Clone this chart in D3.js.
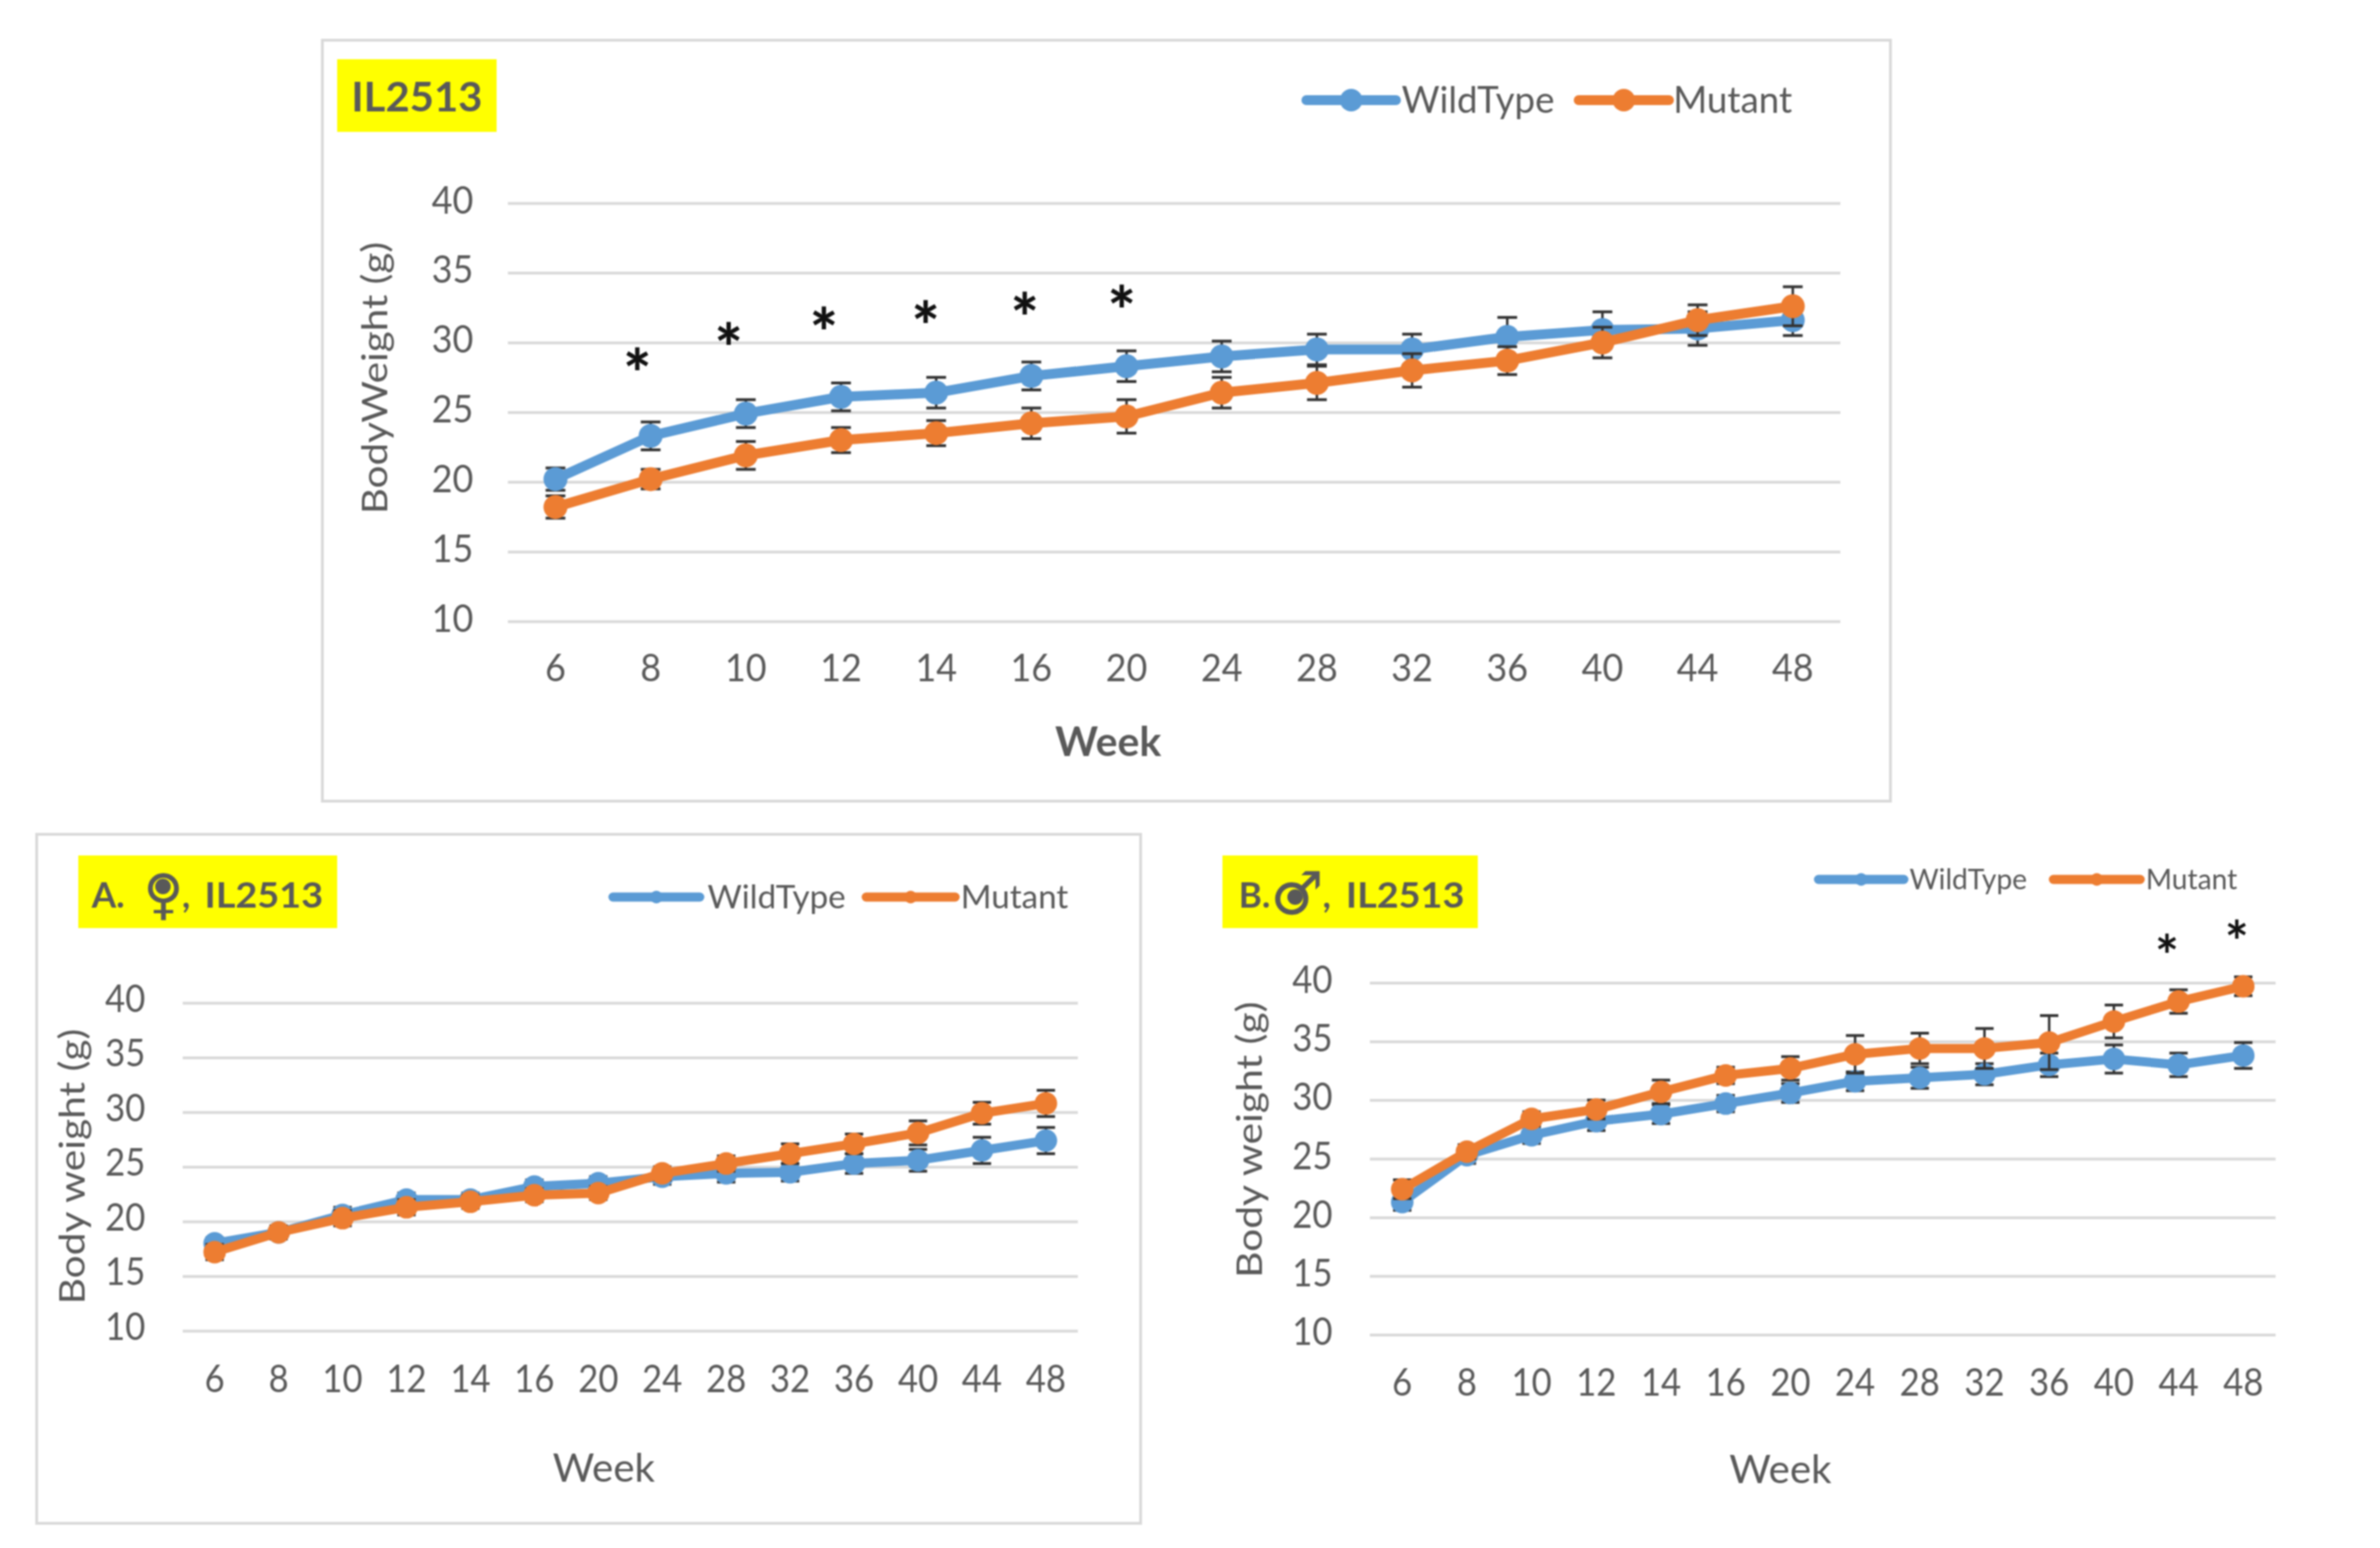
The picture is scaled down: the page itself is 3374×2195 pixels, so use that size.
<!DOCTYPE html>
<html><head><meta charset="utf-8">
<script src="https://cdn.jsdelivr.net/npm/d3@7"></script>
<style>
html,body{margin:0;padding:0;background:#fff}
svg{display:block;filter:blur(1.1px)}
text{font-family:Lato,"Open Sans",sans-serif;fill:#595959}
</style></head><body>
<svg id="c" width="3374" height="2195"></svg>
<script>
const weeks=[6,8,10,12,14,16,20,24,28,32,36,40,44,48];
const yTicks=[10,15,20,25,30,35,40];
const seriesNames=["WildType","Mutant"];
const seriesColors=["#5b9bd5","#ed7d31"];

const allWT=[20.2,23.3,24.9,26.1,26.4,27.6,28.3,29.0,29.5,29.5,30.4,30.9,31.0,31.6];
const allMut=[18.2,20.2,21.9,23.0,23.5,24.2,24.7,26.4,27.1,28.0,28.7,30.0,31.6,32.6];
const allWTErr=[0.8,1.0,1.0,1.0,1.1,1.0,1.1,1.1,1.1,1.1,1.4,1.3,1.2,1.1];
const allMutErr=[0.8,0.7,1.0,0.9,0.9,1.1,1.2,1.1,1.2,1.2,1.0,1.1,1.1,1.4];
const allStarPos=[0.86,1.82,2.82,3.89,4.93,5.95];
const allStarVal=[28.9,30.7,31.8,32.3,32.9,33.4];

const femWT=[18.0,19.0,20.6,22.0,22.0,23.2,23.5,24.1,24.4,24.5,25.3,25.6,26.5,27.4];
const femMut=[17.2,19.0,20.3,21.3,21.8,22.4,22.6,24.4,25.3,26.2,27.1,28.1,29.9,30.8];
const femWTErr=[0.5,0.5,0.7,0.6,0.6,0.6,0.6,0.7,0.8,0.8,0.9,1.0,1.2,1.2];
const femMutErr=[0.7,0.6,0.7,0.7,0.6,0.6,0.6,0.6,0.7,0.9,0.9,1.1,1.0,1.2];

const malWT=[21.3,25.3,27.0,28.2,28.8,29.7,30.6,31.6,31.9,32.2,33.0,33.5,33.0,33.8];
const malMut=[22.4,25.6,28.4,29.2,30.7,32.1,32.7,33.9,34.4,34.4,34.9,36.7,38.4,39.7];
const malWTErr=[0.7,0.7,0.7,0.8,0.8,0.7,0.8,0.8,0.9,0.9,1.0,1.2,1.0,1.1];
const malMutErr=[0.8,0.6,0.6,0.8,1.0,0.7,1.0,1.6,1.3,1.7,2.3,1.4,1.0,0.8];
const malStarPos=[11.82,12.9];
const malStarVal=[43.4,44.6];

const svg=d3.select("#c");
svg.append("rect").attr("width",3374).attr("height",2195).attr("fill","#fff");

function panel(p){
  const g=svg.append("g");
  if(p.frame) g.append("rect").attr("x",p.frame[0]).attr("y",p.frame[1]).attr("width",p.frame[2]-p.frame[0]).attr("height",p.frame[3]-p.frame[1]).attr("fill","#fff").attr("stroke","#d9d9d9").attr("stroke-width",4);
  const x=d3.scaleBand().domain(weeks).range([p.x0,p.x1]);
  const cx=w=>x(w)+x.bandwidth()/2;
  const y=d3.scaleLinear().domain([10,40]).range([p.y0,p.y1]);

  const ya=g.append("g").attr("transform",`translate(${p.x0},0)`).call(d3.axisLeft(y).tickValues(yTicks).tickSize(-(p.x1-p.x0)));
  ya.select(".domain").remove();
  ya.selectAll(".tick line").attr("stroke","#d9d9d9").attr("stroke-width",4);
  ya.selectAll(".tick text").attr("x",p.yLabX-p.x0).attr("dy",p.yLabDy).attr("text-anchor","end").style("font-size",p.tick+"px").attr("fill","#595959")
    .attr("textLength",d=>String(d).length*p.digit).attr("lengthAdjust","spacingAndGlyphs");

  const xa=g.append("g").attr("transform",`translate(0,${p.xLabY})`).call(d3.axisBottom(x).tickSize(0));
  xa.select(".domain").remove();
  xa.selectAll(".tick text").attr("y",0).attr("dy","0.36em").style("font-size",p.tick+"px").attr("fill","#595959")
    .attr("textLength",d=>String(d).length*p.digit).attr("lengthAdjust","spacingAndGlyphs");

  g.append("text").attr("x",p.weekX).attr("y",p.weekY).attr("dy","0.35em").attr("text-anchor","middle").style("font-size",p.weekFont+"px").style("font-weight",p.weekBold?"700":"400").text("Week");
  g.append("text").attr("transform",`translate(${p.ylx},${p.yly}) rotate(-90)`).attr("dy","0.35em").attr("text-anchor","middle").style("font-size",p.axisFont+"px").attr("textLength",p.ylLen).attr("lengthAdjust","spacingAndGlyphs").text(p.yTitle);

  [[p.wt,p.wtE,0],[p.mut,p.mutE,1]].forEach(([vals,errs,i])=>{
    const s=g.append("g");
    const rows=weeks.map((w,k)=>({w,v:vals[k],e:errs[k]}));
    const eb=s.selectAll("g.e").data(rows).join("g");
    eb.append("line").attr("x1",d=>cx(d.w)).attr("x2",d=>cx(d.w)).attr("y1",d=>y(d.v-d.e)).attr("y2",d=>y(d.v+d.e)).attr("stroke","#333").attr("stroke-width",3.5);
    [-1,1].forEach(sg=>eb.append("line").attr("x1",d=>cx(d.w)-p.cap).attr("x2",d=>cx(d.w)+p.cap).attr("y1",d=>y(d.v+sg*d.e)).attr("y2",d=>y(d.v+sg*d.e)).attr("stroke","#333").attr("stroke-width",4));
    s.append("path").attr("d",d3.line().x(d=>cx(d.w)).y(d=>y(d.v))(rows)).attr("fill","none").attr("stroke",seriesColors[i]).attr("stroke-width",p.lw).attr("stroke-linejoin","round");
    s.selectAll("circle").data(rows).join("circle").attr("cx",d=>cx(d.w)).attr("cy",d=>y(d.v)).attr("r",p.r).attr("fill",seriesColors[i]);
  });

  if(p.starPos){
    const sx=d3.scaleLinear().domain([0,weeks.length-1]).range([cx(weeks[0]),cx(weeks[weeks.length-1])]);
    g.selectAll("text.star").data(p.starPos.map((q,k)=>({q,v:p.starVal[k]}))).join("text").attr("class","star")
      .attr("x",d=>sx(d.q)).attr("y",d=>y(d.v)).attr("dy",p.starDy).attr("text-anchor","middle")
      .style("font-size",p.starFont+"px").style("font-weight",p.starWeight).style("fill","#111").text("*");
  }

  seriesNames.forEach((n,i)=>{
    const L=p.legend[i];
    g.append("line").attr("x1",L[0]).attr("x2",L[1]).attr("y1",p.legY).attr("y2",p.legY).attr("stroke",seriesColors[i]).attr("stroke-width",p.lw).attr("stroke-linecap","round");
    g.append("circle").attr("cx",(L[0]+L[1])/2).attr("cy",p.legY).attr("r",p.legR).attr("fill",seriesColors[i]);
    g.append("text").attr("x",L[2]).attr("y",p.legY).attr("dy","0.35em").style("font-size",p.legFont+"px").text(n);
  });

  const b=p.box;
  g.append("rect").attr("x",b[0]).attr("y",b[1]).attr("width",b[2]-b[0]).attr("height",b[3]-b[1]).attr("fill","#ffff00");
  p.title.forEach(t=>{
    g.append("text").attr("x",t.x).attr("y",t.y).attr("textLength",t.len||null).attr("lengthAdjust","spacingAndGlyphs").style("font-size",t.size+"px").style("font-weight",t.weight||"700").style("font-family",t.family||null).text(t.s);
  });
  if(p.dot) g.append("circle").attr("cx",p.dot[0]).attr("cy",p.dot[1]).attr("r",p.dot[2]).attr("fill","#595959");
}

panel({frame:[457,57,2680,1136],x0:720,x1:2609,y0:881,y1:288,yLabX:671,yLabDy:"14px",xLabY:946,tick:55,digit:29.5,
  weekX:1571,weekY:1052,weekBold:true,weekFont:58,axisFont:50,ylx:531,yly:536,ylLen:386,yTitle:"BodyWeight (g)",
  wt:allWT,wtE:allWTErr,mut:allMut,mutE:allMutErr,lw:14,r:17,cap:14,
  starPos:allStarPos,starVal:allStarVal,starDy:"0.6em",starFont:94,starWeight:"900",
  legend:[[1852,1979,1987],[2238,2366,2372]],legY:142,legR:16,legFont:52,
  box:[478,84,704,187],title:[{x:498,y:158,s:"IL2513",size:58,len:186}]});

panel({frame:[52,1183,1617,2160],x0:259,x1:1528,y0:1887,y1:1422,yLabX:206,yLabDy:"12px",xLabY:1955,tick:54,digit:28.5,
  weekX:856,weekY:2081,weekFont:57,axisFont:50,ylx:102,yly:1654,ylLen:391,yTitle:"Body weight (g)",
  wt:femWT,wtE:femWTErr,mut:femMut,mutE:femMutErr,lw:13,r:16,cap:13,
  legend:[[869,992,1003],[1228,1354,1362]],legY:1272,legR:9,legFont:47,
  box:[111,1213,478,1316],
  title:[{x:130,y:1287,s:"A.",size:50},{x:203,y:1295,s:"\u2640",size:78,weight:"400",family:"DejaVu Sans"},{x:258,y:1287,s:",",size:50},{x:290,y:1287,s:"IL2513",size:50,len:168}],
  dot:[231,1257,11]});

panel({x0:1942,x1:3226,y0:1892.5,y1:1393.5,yLabX:1889,yLabDy:"14px",xLabY:1960,tick:54,digit:28.5,
  weekX:2524,weekY:2083,weekFont:57,axisFont:50,ylx:1771,yly:1616,ylLen:392,yTitle:"Body weight (g)",
  wt:malWT,wtE:malWTErr,mut:malMut,mutE:malMutErr,lw:13,r:16,cap:13,
  starPos:malStarPos,starVal:malStarVal,starDy:"0.6em",starFont:80,starWeight:"700",
  legend:[[2578,2699,2707],[2911,3034,3042]],legY:1247,legR:9,legFont:40,
  box:[1733,1213,2095,1316],
  title:[{x:1756,y:1287,s:"B.",size:50},{x:1801,y:1296,s:"\u2642",size:84,weight:"400",family:"DejaVu Sans"},{x:1875,y:1287,s:",",size:50},{x:1908,y:1287,s:"IL2513",size:50,len:168}],
  dot:[1836,1272,11]});
</script>
</body></html>
